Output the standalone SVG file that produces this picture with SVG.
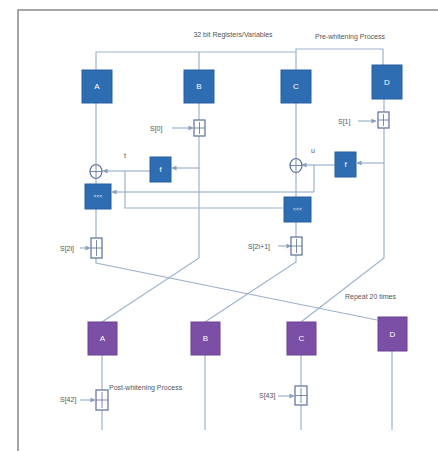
<svg xmlns="http://www.w3.org/2000/svg" width="438" height="452" viewBox="0 0 438 452">
<defs>
<style>
.ln{fill:none;stroke:#9fb3cc;stroke-width:1.2}
.ln2{fill:none;stroke:#8aa0c0;stroke-width:1.2}
.bb{fill:#2f6db3;stroke:#285f9e;stroke-width:1}
.pb{fill:#7b4fa6;stroke:#6a4094;stroke-width:1}
.bt{font-family:"Liberation Sans",Arial,sans-serif;font-size:8px;fill:#ffffff;text-anchor:middle}
.st{font-family:"Liberation Sans",Arial,sans-serif;font-size:5px;fill:#ffffff;text-anchor:middle}
.lb{font-family:"Liberation Sans",Arial,sans-serif;font-size:7px;fill:#555555}
.add{fill:#ffffff;stroke:#5a6f95;stroke-width:1.2}
.ar{fill:none;stroke:#8aa0c0;stroke-width:1;marker-end:url(#ah)}
</style>
<marker id="ah" viewBox="0 0 6 6" refX="5.5" refY="3" markerWidth="5" markerHeight="5" orient="auto">
<path d="M0,0 L6,3 L0,6 Z" fill="#8aa0c0"/>
</marker>
</defs>
<rect width="438" height="452" fill="#ffffff"/>
<path d="M18,451 V10 H438" fill="none" stroke="#888888" stroke-width="1.5"/>
<text class="lb" x="233" y="37" text-anchor="middle">32 bit Registers/Variables</text>
<text class="lb" x="350" y="39" text-anchor="middle">Pre-whitening Process</text>

<g id="connectors">
<path class="ln" d="M96,70 V52 H296 V49 H383 V65"/>
<path class="ln" d="M199,52 V70 M296,52 V70"/>
<!-- A line -->
<path class="ln" d="M96,103 V165 M96,178 V184 M96,209 V238 M96,258 V263 L377,320"/>
<!-- B line -->
<path class="ln" d="M199,103 V120 M199,136 V258 L102,322"/>
<!-- C line -->
<path class="ln" d="M296,103 V159 M296,172 V197 M296,222 V237 M296,255 V262 L205,322"/>
<!-- D line -->
<path class="ln" d="M384,99 V112 M384,128 V258 L301,322"/>
<!-- f left -->
<path class="ar" d="M199,168 H172"/>
<path class="ar" d="M150,171 H103"/>
<path class="ln" d="M125,171 V208 H283"/>
<!-- f right -->
<path class="ar" d="M384,163 H357"/>
<path class="ar" d="M335,165 H302"/>
<path class="ln" d="M314,165 V192"/>
<path class="ar" d="M314,192 H112"/>
<!-- whitening arrows -->
<path class="ar" d="M172,128 H193"/>
<path class="ar" d="M358,121 H376"/>
<path class="ar" d="M80,248 H90"/>
<path class="ar" d="M278,246 H291"/>
<path class="ar" d="M80,400 H95"/>
<path class="ar" d="M278,396 H294"/>
<!-- bottom lines -->
<path class="ln" d="M102,355 V390 M102,410 V430 M205,355 V430 M301,355 V386 M301,405 V430 M392,351 V430"/>
</g>

<g id="A"><rect class="bb" x="82" y="70" width="30" height="33"/><text class="bt" x="97" y="89">A</text></g>
<g id="B"><rect class="bb" x="184" y="70" width="30" height="33"/><text class="bt" x="199" y="89">B</text></g>
<g id="C"><rect class="bb" x="281" y="70" width="30" height="33"/><text class="bt" x="296" y="89">C</text></g>
<g id="D"><rect class="bb" x="372" y="65" width="30" height="34"/><text class="bt" x="387" y="85">D</text></g>

<g id="addS0"><text class="lb" x="150" y="131">S[0]</text><rect class="add" x="194" y="120" width="11" height="16"/><path d="M194,128 H205 M199.5,122 V134" stroke="#5a6f95" stroke-width="0.8"/></g>
<g id="addS1"><text class="lb" x="338" y="124">S[1]</text><rect class="add" x="378" y="112" width="11" height="16"/><path d="M378,120 H389 M383.5,114 V126" stroke="#5a6f95" stroke-width="0.8"/></g>

<g id="xorL"><ellipse cx="96" cy="171.5" rx="6" ry="7" fill="#ffffff" stroke="#5a6f95" stroke-width="1.2"/><path d="M90,171.5 H102 M96,164.5 V178.5" stroke="#5a6f95" stroke-width="0.8"/></g>
<g id="xorR"><ellipse cx="296" cy="165.5" rx="6" ry="7" fill="#ffffff" stroke="#5a6f95" stroke-width="1.2"/><path d="M290,165.5 H302 M296,158.5 V172.5" stroke="#5a6f95" stroke-width="0.8"/></g>
<text class="lb" x="124" y="158">t</text>
<text class="lb" x="311" y="153">u</text>

<g id="fL"><rect class="bb" x="150" y="157" width="21" height="25"/><text class="bt" x="160.5" y="172">f</text></g>
<g id="fR"><rect class="bb" x="335" y="152" width="21" height="25"/><text class="bt" x="345.5" y="167">f</text></g>

<g id="rotL"><rect class="bb" x="85" y="184" width="26" height="25"/><text class="st" x="98" y="198">&lt;&lt;&lt;</text></g>
<g id="rotR"><rect class="bb" x="284" y="197" width="27" height="25"/><text class="st" x="297.5" y="211">&lt;&lt;&lt;</text></g>

<g id="addS2i"><text class="lb" x="60" y="251">S[2i]</text><rect class="add" x="91" y="238" width="11" height="20"/><path d="M91,248 H102 M96.5,240 V256" stroke="#5a6f95" stroke-width="0.8"/></g>
<g id="addS2i1"><text class="lb" x="248" y="249">S[2i+1]</text><rect class="add" x="291" y="237" width="11" height="18"/><path d="M291,246 H302 M296.5,239 V253" stroke="#5a6f95" stroke-width="0.8"/></g>

<text class="lb" x="345" y="299">Repeat 20 times</text>

<g id="A2"><rect class="pb" x="88" y="322" width="29" height="33"/><text class="bt" x="102.5" y="341">A</text></g>
<g id="B2"><rect class="pb" x="191" y="322" width="29" height="33"/><text class="bt" x="205.5" y="341">B</text></g>
<g id="C2"><rect class="pb" x="287" y="322" width="29" height="33"/><text class="bt" x="301.5" y="341">C</text></g>
<g id="D2"><rect class="pb" x="378" y="317" width="29" height="34"/><text class="bt" x="392.5" y="337">D</text></g>

<g id="addS42"><text class="lb" x="60" y="402">S[42]</text><rect class="add" x="96" y="390" width="12" height="20"/><path d="M96,400 H108 M102,392 V408" stroke="#5a6f95" stroke-width="0.8"/></g>
<g id="addS43"><text class="lb" x="259" y="398">S[43]</text><rect class="add" x="295" y="386" width="12" height="19"/><path d="M295,395.5 H307 M301,388 V403" stroke="#5a6f95" stroke-width="0.8"/></g>
<text class="lb" x="109" y="390">Post-whitening Process</text>
</svg>
